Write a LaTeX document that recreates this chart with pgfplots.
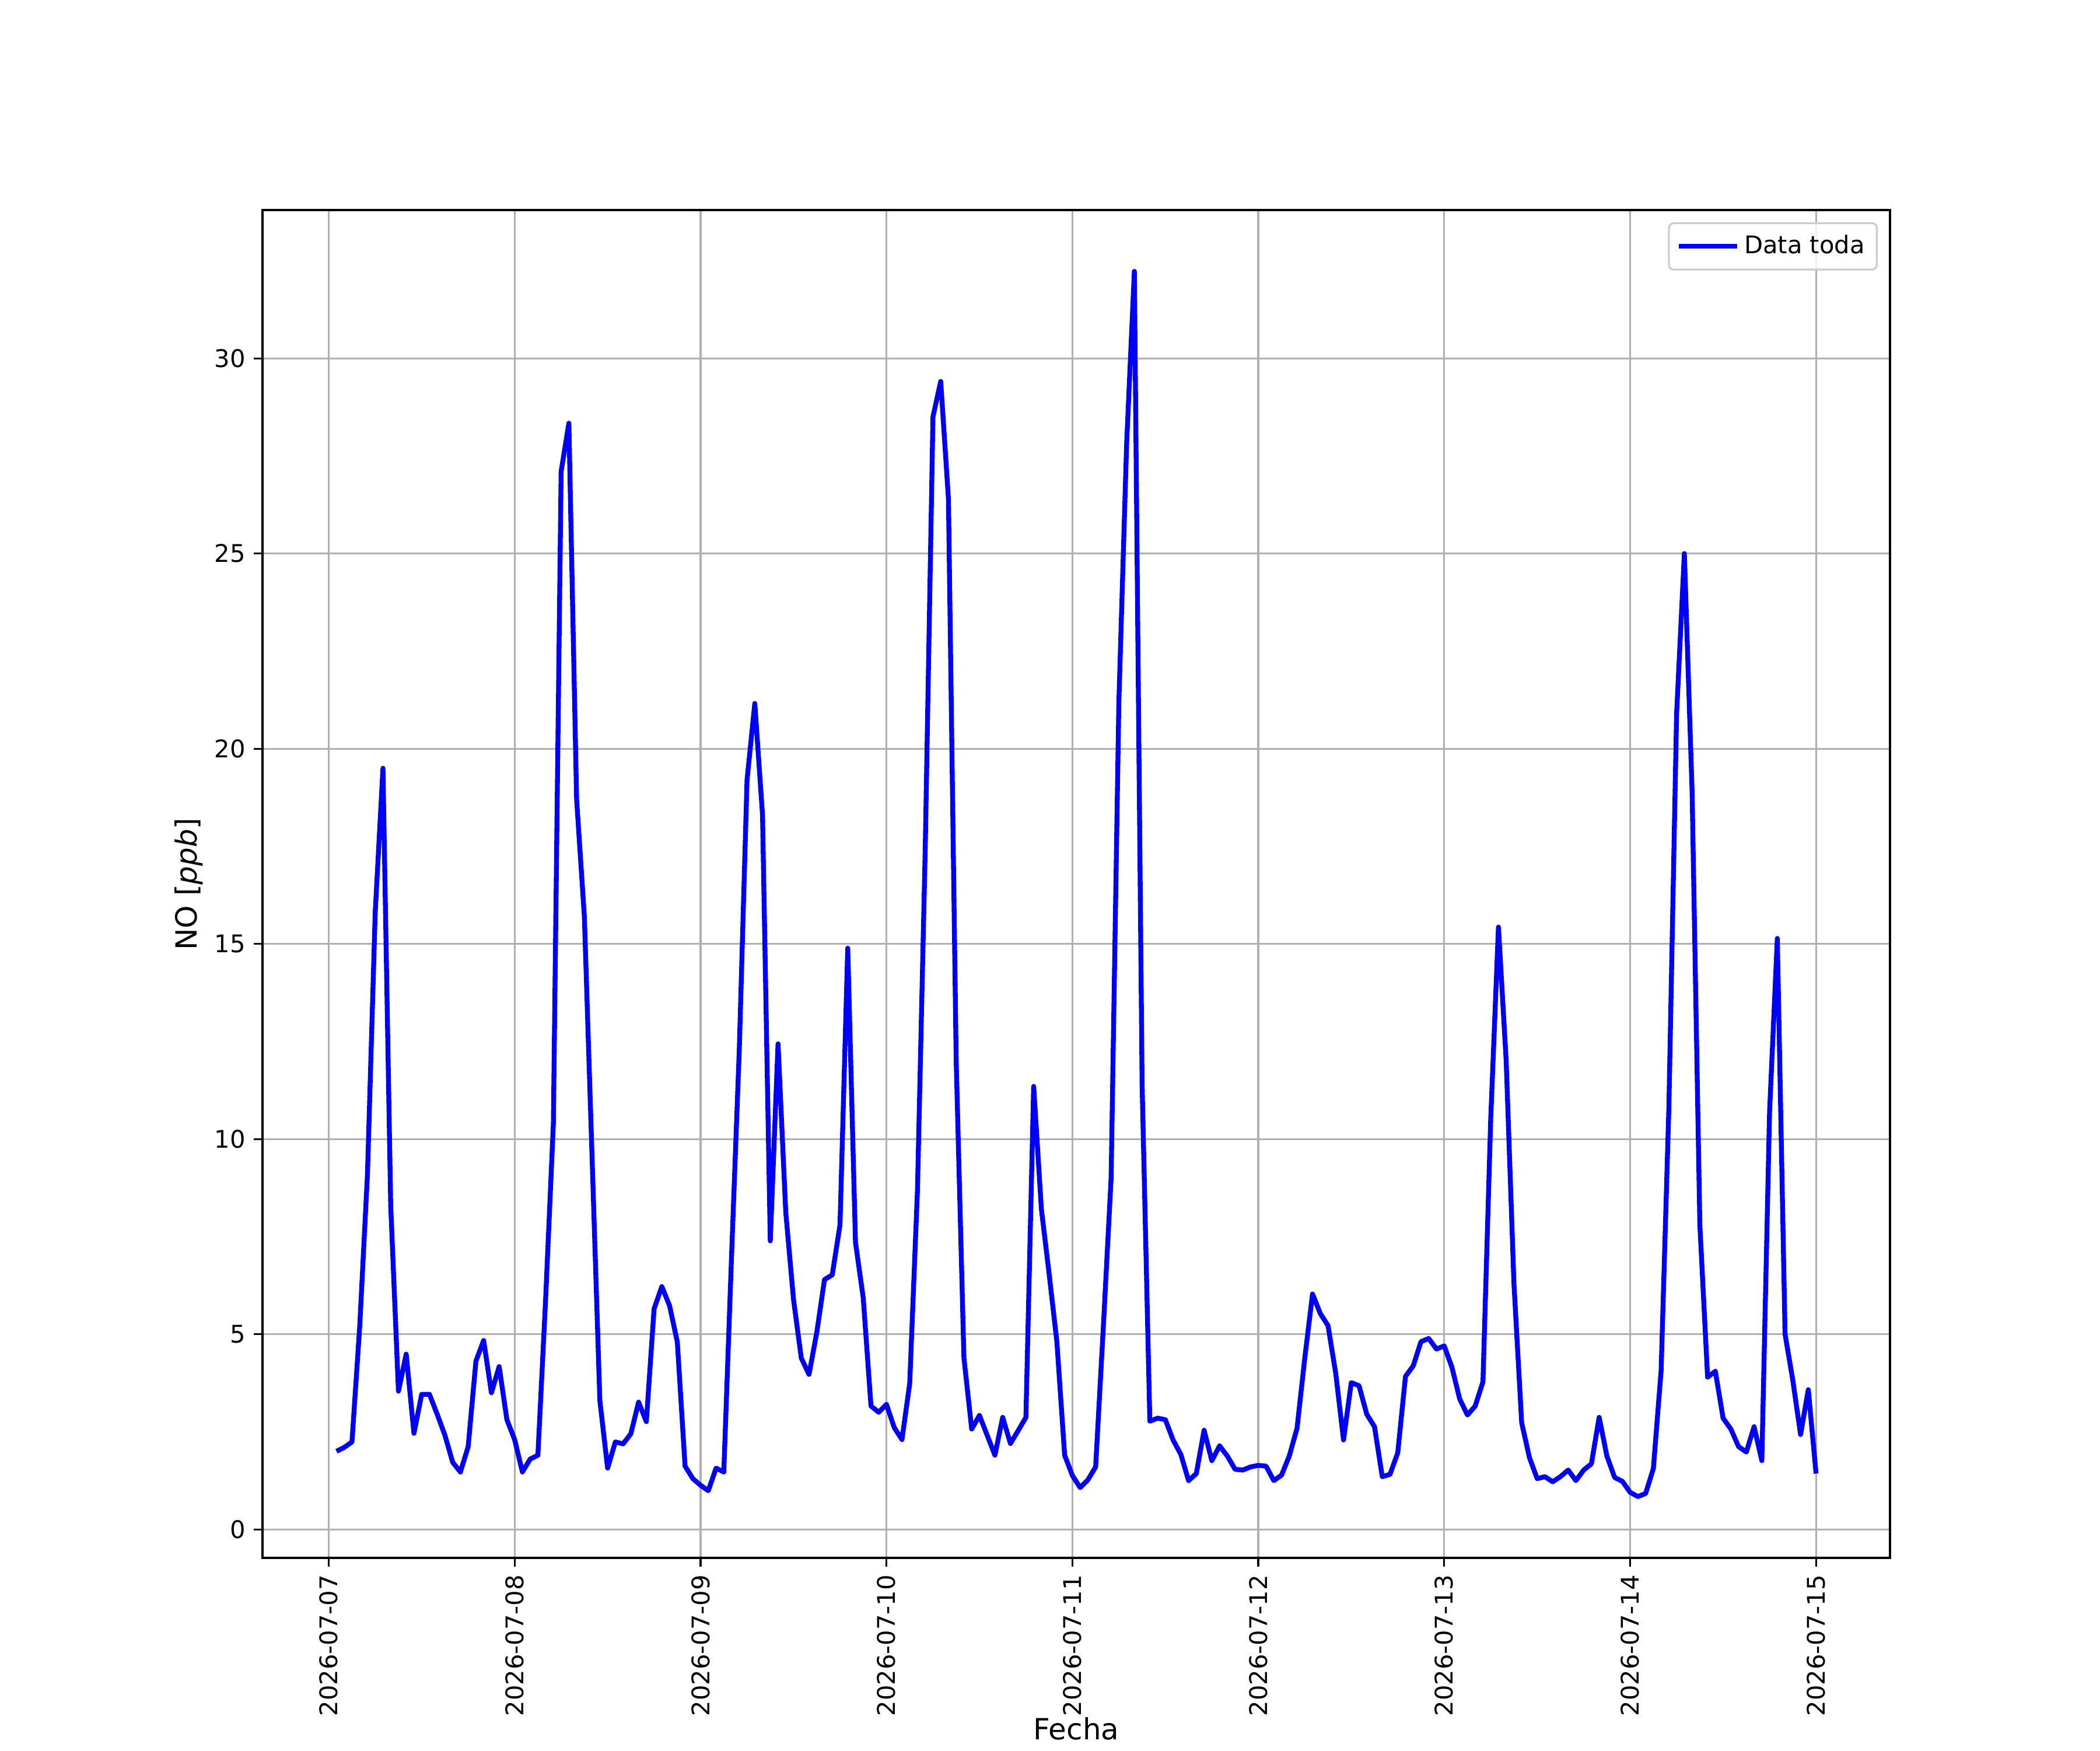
\documentclass[border=0pt]{standalone}
\usepackage{fontspec}
\setmainfont{DejaVu Sans}
\usepackage{pgfplots}
\usepackage{pgfplotstable}
\pgfplotsset{compat=1.18}
\definecolor{gridgray}{HTML}{B0B0B0}
\definecolor{legedge}{HTML}{CCCCCC}
\pgfplotstableread{
h v
1 2.00
2 2.10
3 2.24
4 5.20
5 9.10
6 15.8
7 19.5
8 8.30
9 3.54
10 4.49
11 2.46
12 3.46
13 3.46
14 2.95
15 2.41
16 1.72
17 1.47
18 2.12
19 4.31
20 4.84
21 3.50
22 4.17
23 2.81
24 2.30
25 1.47
26 1.80
27 1.90
28 5.90
29 10.4
30 27.1
31 28.34
32 18.7
33 15.7
34 9.50
35 3.30
36 1.57
37 2.24
38 2.19
39 2.45
40 3.26
41 2.76
42 5.65
43 6.22
44 5.73
45 4.80
46 1.62
47 1.30
48 1.13
49 0.99
50 1.57
51 1.47
52 7.00
53 12.3
54 19.2
55 21.16
56 18.3
57 7.39
58 12.44
59 8.12
60 5.89
61 4.39
62 3.97
63 5.04
64 6.40
65 6.52
66 7.80
67 14.89
68 7.35
69 5.93
70 3.16
71 3.00
72 3.20
73 2.61
74 2.30
75 3.74
76 8.69
77 17.4
78 28.5
79 29.41
80 26.4
81 12.0
82 4.39
83 2.57
84 2.92
85 2.41
86 1.90
87 2.87
88 2.20
89 2.53
90 2.87
91 11.35
92 8.20
93 6.54
94 4.80
95 1.90
96 1.38
97 1.07
98 1.27
99 1.60
100 5.20
101 9.00
102 21.2
103 27.8
104 32.23
105 11.4
106 2.77
107 2.85
108 2.81
109 2.29
110 1.92
111 1.25
112 1.43
113 2.54
114 1.76
115 2.14
116 1.88
117 1.54
118 1.52
119 1.60
120 1.64
121 1.62
122 1.25
123 1.39
124 1.88
125 2.59
126 4.39
127 6.03
128 5.53
129 5.22
130 3.99
131 2.29
132 3.76
133 3.68
134 2.95
135 2.63
136 1.35
137 1.41
138 1.96
139 3.92
140 4.19
141 4.81
142 4.89
143 4.62
144 4.70
145 4.15
146 3.34
147 2.93
148 3.16
149 3.78
150 10.5
151 15.43
152 12.0
153 6.30
154 2.73
155 1.84
156 1.30
157 1.35
158 1.22
159 1.35
160 1.52
161 1.25
162 1.52
163 1.68
164 2.87
165 1.88
166 1.33
167 1.23
168 0.95
169 0.84
170 0.92
171 1.56
172 4.07
173 10.8
174 20.9
175 25.0
176 18.9
177 7.80
178 3.90
179 4.05
180 2.85
181 2.57
182 2.12
183 1.98
184 2.63
185 1.76
186 10.7
187 15.14
188 5.00
189 3.82
190 2.43
191 3.58
192 1.43
}\datatable
\begin{document}
\begin{tikzpicture}
\useasboundingbox (0,0) rectangle (864pt,720pt);
\begin{axis}[
  at={(108pt,79.2pt)}, anchor=south west,
  scale only axis, width=669.6pt, height=554.4pt,
  xmin=-8.55, xmax=201.55, ymin=-0.73, ymax=33.8,
  xtick={0,24,48,72,96,120,144,168,192},
  xticklabels={2026-07-07,2026-07-08,2026-07-09,2026-07-10,2026-07-11,2026-07-12,2026-07-13,2026-07-14,2026-07-15},
  ytick={0,5,10,15,20,25,30},
  xticklabel style={rotate=90, anchor=east, font=\fontsize{10}{12}\selectfont},
  yticklabel style={font=\fontsize{10}{12}\selectfont},
  /pgf/number format/assume math mode=true,
  tick align=outside, major tick length=3.5pt,
  tick style={black, line width=0.8pt},
  xtick pos=bottom, ytick pos=left,
  axis line style={line width=0.8pt},
  grid=major,
  major grid style={gridgray, line width=0.8pt},
  xlabel={Fecha}, ylabel={NO [\textit{ppb}]},
  label style={font=\fontsize{12}{14}\selectfont},
  xlabel style={yshift=4pt, inner ysep=1pt},
  ylabel style={yshift=-2pt},
  legend style={at={(1,1)}, anchor=north east, xshift=-5pt, yshift=-5pt,
    draw=legedge, rounded corners=2pt, line width=0.8pt,
    font=\fontsize{10}{12}\selectfont, inner xsep=3pt, inner ysep=3pt,
    fill=white, fill opacity=0.8, text opacity=1},
  legend cell align=left,
  legend image code/.code={\draw[#1] (0pt,0pt) -- (20pt,0pt); \path (0pt,0pt) -- (24pt,0pt);},
]
\addplot[blue, line width=2pt, line join=round, no markers] table[x=h, y=v] {\datatable};
\addlegendentry{Data toda}
\end{axis}
\end{tikzpicture}
\end{document}
